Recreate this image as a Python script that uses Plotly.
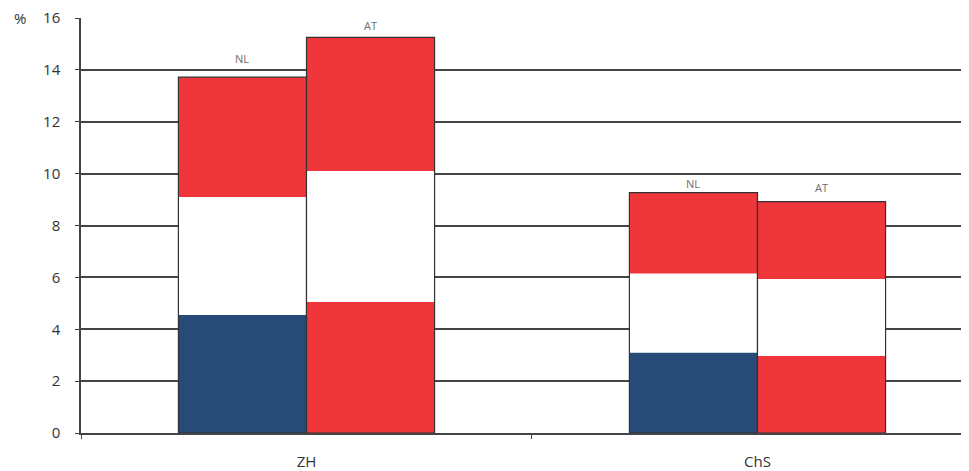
import plotly.graph_objects as go
import numpy as np

categories = ["ZH", "ChS"]
flags = ["NL", "AT"]
# segment values (bottom, middle, top) per flag, per category
nl_bottom = [4.55, 3.1]
nl_middle = [4.55, 3.05]
nl_top = [4.62, 3.12]
at_bottom = [5.05, 2.97]
at_middle = [5.05, 2.97]
at_top = [5.15, 2.98]
y_ticks = [0, 2, 4, 6, 8, 10, 12, 14, 16]

BLUE = "#284a77"
RED = "#ee363b"
WHITE = "#ffffff"
W = 0.284

fig = go.Figure()
annotations = []

def add_stack(name, segs, colors, offset, shifts):
    base = np.zeros(len(categories))
    for vals, col in zip(segs, colors):
        fig.add_trace(go.Bar(x=categories, y=vals, base=list(base), offset=offset, width=W,
                             marker=dict(color=col, line=dict(width=0)),
                             showlegend=False, hoverinfo="skip"))
        base = base + np.array(vals)
    fig.add_trace(go.Bar(x=categories, y=list(base), offset=offset, width=W,
                         marker=dict(color="rgba(0,0,0,0)", line=dict(color="#333333", width=1.2)),
                         showlegend=False, hoverinfo="skip"))
    for i, tot in enumerate(base):
        annotations.append(dict(x=i + offset + W / 2, y=float(tot), xref="x", yref="y",
                                text=name, showarrow=False, yanchor="bottom", yshift=shifts[i],
                                font=dict(size=11, color="#6e6e6e")))

add_stack("NL", [nl_bottom, nl_middle, nl_top], [BLUE, WHITE, RED], -W, [9, 0])
add_stack("AT", [at_bottom, at_middle, at_top], [RED, WHITE, RED], 0, [2, 5])

annotations.append(dict(text="%", xref="paper", yref="paper", x=-0.0687, y=1.0,
                        xanchor="center", yanchor="middle", showarrow=False,
                        font=dict(size=15, color="#333333")))

fig.update_layout(
    width=961, height=463,
    margin=dict(l=73, r=0, t=10, b=38),
    barmode="overlay",
    plot_bgcolor="white", paper_bgcolor="white",
    font=dict(family="Open Sans", size=15, color="#333333"),
    xaxis=dict(type="category", range=[-0.5, 1.469], showgrid=False,
               showline=True, linecolor="#444444", linewidth=1.5,
               ticks="outside", tickson="boundaries", ticklen=4, tickcolor="#444444",
               ticklabelstandoff=14, tickfont=dict(size=15, color="#333333")),
    yaxis=dict(range=[0, 16.0001], tickvals=y_ticks, showgrid=True, gridcolor="#444444", gridwidth=1.5,
               showline=True, linecolor="#444444", linewidth=1.5,
               ticks="outside", ticklen=4, tickcolor="#444444", ticklabelstandoff=12,
               ticklabeloverflow="allow",
               tickfont=dict(size=15, color="#333333"), zeroline=False),
    annotations=annotations,
)

fig.write_html("out.html")
